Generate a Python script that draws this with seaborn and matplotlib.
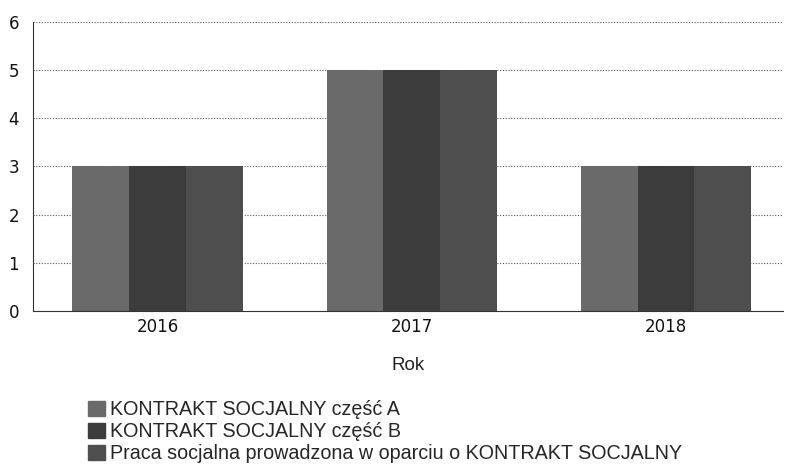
import seaborn as sns
import matplotlib.pyplot as plt
import pandas as pd

years = ["2016", "2017", "2018"]
series = ["KONTRAKT SOCJALNY część A",
          "KONTRAKT SOCJALNY część B",
          "Praca socjalna prowadzona w oparciu o KONTRAKT SOCJALNY"]
values_a = [3, 5, 3]
values_b = [3, 5, 3]
values_c = [3, 5, 3]
colors = ["#6a6a6a", "#3c3c3c", "#4e4e4e"]

df = pd.DataFrame({
    "Rok": years * 3,
    "seria": [series[0]] * 3 + [series[1]] * 3 + [series[2]] * 3,
    "wartosc": values_a + values_b + values_c,
})

sns.set_style("white")
plt.rcParams['font.family'] = ['DejaVu Sans']

fig = plt.figure(figsize=(7.86, 4.66), dpi=100)
ax = fig.add_axes([0.042, 0.333, 0.954, 0.62])

sns.barplot(data=df, x="Rok", y="wartosc", hue="seria", palette=colors,
            width=0.67, gap=0, saturation=1, edgecolor="none",
            legend=False, ax=ax)

ax.set_ylim(0, 6)
ax.set_xlim(-0.49, 2.46)
ax.set_yticks(range(0, 7))
ax.yaxis.grid(True, linestyle=(0, (1, 1.5)), color="#555555", linewidth=0.8)
ax.set_axisbelow(True)
for side in ["top", "right"]:
    ax.spines[side].set_visible(False)
for side in ["left", "bottom"]:
    ax.spines[side].set_linestyle((0, (1, 1)))
    ax.spines[side].set_color("#333333")
    ax.spines[side].set_linewidth(0.8)
ax.tick_params(axis="both", length=0, labelsize=12, colors="#111111")
ax.tick_params(axis="y", pad=10)
ax.tick_params(axis="x", pad=5)
ax.set_ylabel("")
ax.set_xlabel("Rok", fontsize=13.5, labelpad=15, color="#222222",
              family="Liberation Sans")

handles = [plt.Rectangle((0, 0), 1, 1, color=c) for c in colors]
fig.legend(handles, series, loc="upper left", bbox_to_anchor=(0.1, 0.162),
           frameon=False, prop={"family": "Liberation Sans", "size": 14.2},
           handlelength=0.85, handleheight=0.85,
           handletextpad=0.25, labelspacing=0.15, borderpad=0,
           bbox_transform=fig.transFigure)

fig.savefig("out.png", dpi=100)
